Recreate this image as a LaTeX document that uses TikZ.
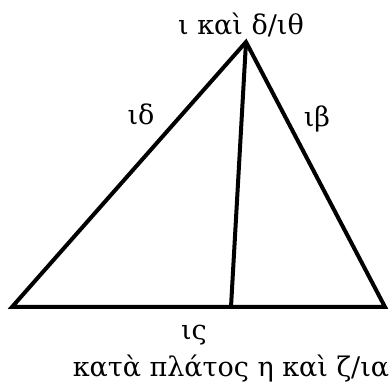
\documentclass[tikz,border=0pt]{standalone}
\usepackage{fontspec}
\setmainfont{DejaVu Serif}
\usetikzlibrary{positioning}

\begin{document}
\begin{tikzpicture}[x=1pt,y=1pt,
    side/.style={line width=4pt,line join=miter},
    lbl/.style={font=\fontsize{27}{32}\selectfont,inner sep=0pt,anchor=base},
]
\useasboundingbox (0,0) rectangle (389,386);
% corners of the triangle
\coordinate (apex) at (246,344);
\coordinate (bl) at (12,79);
\coordinate (br) at (385,79);
\coordinate (foot) at (231,79);

% triangle and perpendicular
\draw[side] (bl) -- (apex) -- (br) -- cycle;
\draw[side] (apex) -- (foot);

% labels
\node[lbl] (top) at (241,351) {ι καὶ δ/ιθ};
\node[lbl] (left) at (141,261) {ιδ};
\node[lbl] (right) at (317,259) {ιβ};
\node[lbl] (base) at (194,46) {ις};
\node[lbl] (width) at (231,9) {κατὰ πλάτος η καὶ ζ/ια};
\end{tikzpicture}
\end{document}
